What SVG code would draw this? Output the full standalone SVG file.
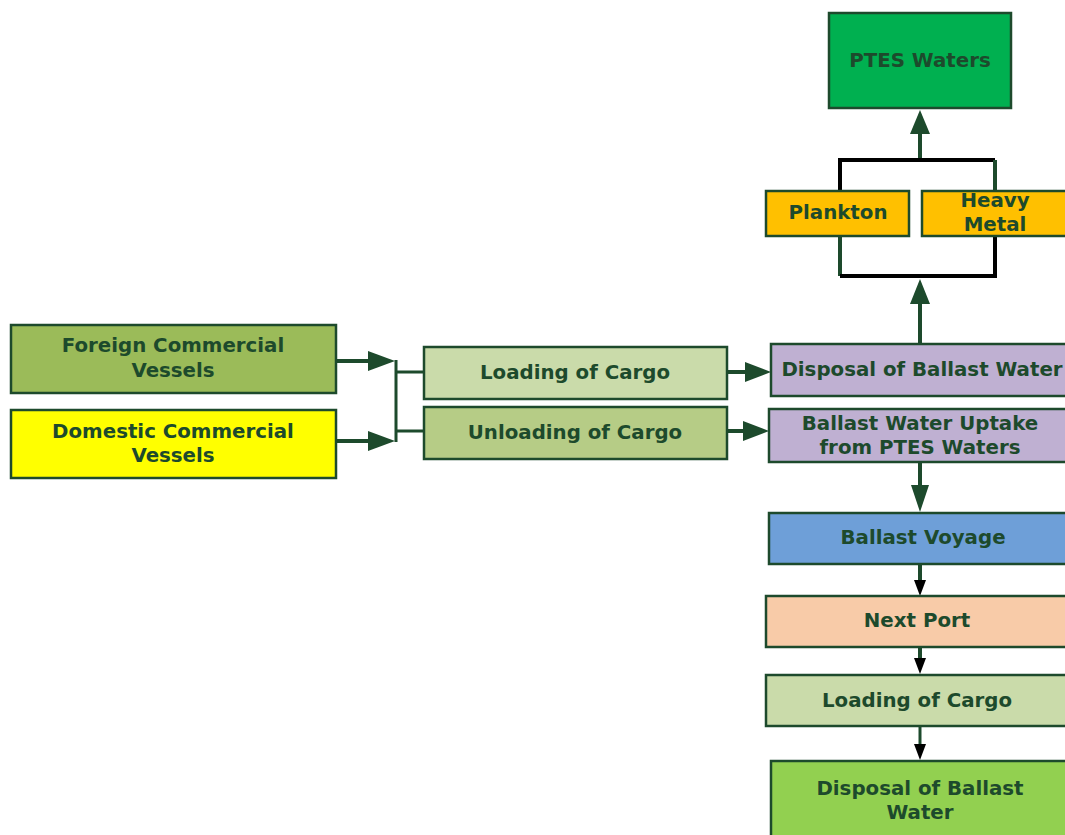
<svg xmlns="http://www.w3.org/2000/svg" width="1065" height="835" viewBox="0 0 1065 835">
<style>
.b{stroke:#1d4a2c;stroke-width:2.5}
.t{font-family:"DejaVu Sans",Verdana,sans-serif;font-weight:bold;font-size:19.8px;fill:#1d4a2c;text-anchor:middle}
.c{stroke:#1d4a2c;stroke-width:4;fill:none}
.k{stroke:#000;stroke-width:4;fill:none}
.ck{stroke:#1d4a2c;stroke-width:3;fill:none}
</style>
<rect width="1065" height="835" fill="#fff"/>
<g id="connectors">
<path class="c" d="M920,160 V132"/><path d="M910,134 L920,110 L930,134 Z" fill="#1d4a2c"/>
<path class="k" d="M840,191 V160 H995"/><path class="c" d="M995,160 V191"/>
<path class="c" d="M840,236 V276"/><path class="k" d="M840,276 H995 V236"/>
<path class="c" d="M920,345 V302"/><path d="M910,304 L920,279 L930,304 Z" fill="#1d4a2c"/>
<path class="c" d="M336,361 H370"/><path d="M368,351 L395,361 L368,371 Z" fill="#1d4a2c"/>
<path class="c" d="M336,441 H370"/><path d="M368,431 L395,441 L368,451 Z" fill="#1d4a2c"/>
<path class="ck" d="M396,360 V442 M396,372 H425 M396,431 H425"/>
<path class="c" d="M727,372 H748"/><path d="M745,362 L771,372 L745,382 Z" fill="#1d4a2c"/>
<path class="c" d="M727,431 H746"/><path d="M743,421 L769,431 L743,441 Z" fill="#1d4a2c"/>
<path class="c" d="M920,462 V488"/><path d="M911,485 L920,512 L929,485 Z" fill="#1d4a2c"/>
<path class="c" d="M920,564 V582"/><path d="M914,580 L920,596 L926,580 Z" fill="#000"/>
<path class="c" d="M920,647 V662"/><path d="M914,658 L920,674 L926,658 Z" fill="#000"/>
<path class="ck" d="M920,726 V746"/><path d="M914,744 L920,760 L926,744 Z" fill="#000"/>
</g>
<g id="ptes"><rect class="b" x="829" y="13" width="182" height="95" fill="#00b050"/><text class="t" x="920" y="67">PTES Waters</text></g>
<g id="plankton"><rect class="b" x="766" y="191" width="143" height="45" fill="#ffc000"/><text class="t" x="838" y="219">Plankton</text></g>
<g id="heavymetal"><rect class="b" x="922" y="191" width="150" height="45" fill="#ffc000"/><text class="t" x="995" y="207">Heavy</text><text class="t" x="995" y="231">Metal</text></g>
<g id="foreign"><rect class="b" x="11" y="325" width="325" height="68" fill="#9bbb59"/><text class="t" x="173" y="352">Foreign Commercial</text><text class="t" x="173" y="377">Vessels</text></g>
<g id="domestic"><rect class="b" x="11" y="410" width="325" height="68" fill="#ffff00"/><text class="t" x="173" y="438">Domestic Commercial</text><text class="t" x="173" y="462">Vessels</text></g>
<g id="loading1"><rect class="b" x="424" y="347" width="303" height="52" fill="#cadbaa"/><text class="t" x="575" y="379">Loading of Cargo</text></g>
<g id="unloading"><rect class="b" x="424" y="407" width="303" height="52" fill="#b6cc86"/><text class="t" x="575" y="439">Unloading of Cargo</text></g>
<g id="disposal1"><rect class="b" x="771" y="344" width="300" height="52" fill="#bfb0d2"/><text class="t" x="922" y="376">Disposal of Ballast Water</text></g>
<g id="uptake"><rect class="b" x="769" y="409" width="302" height="53" fill="#bfb0d2"/><text class="t" x="920" y="430">Ballast Water Uptake</text><text class="t" x="920" y="454">from PTES Waters</text></g>
<g id="voyage"><rect class="b" x="769" y="513" width="302" height="51" fill="#6e9fd8"/><text class="t" x="923" y="544">Ballast Voyage</text></g>
<g id="nextport"><rect class="b" x="766" y="596" width="305" height="51" fill="#f8cba8"/><text class="t" x="917" y="627">Next Port</text></g>
<g id="loading2"><rect class="b" x="766" y="675" width="305" height="51" fill="#cadbaa"/><text class="t" x="917" y="707">Loading of Cargo</text></g>
<g id="disposal2"><rect class="b" x="771" y="761" width="300" height="80" fill="#92d050"/><text class="t" x="920" y="795">Disposal of Ballast</text><text class="t" x="920" y="819">Water</text></g>
</svg>
